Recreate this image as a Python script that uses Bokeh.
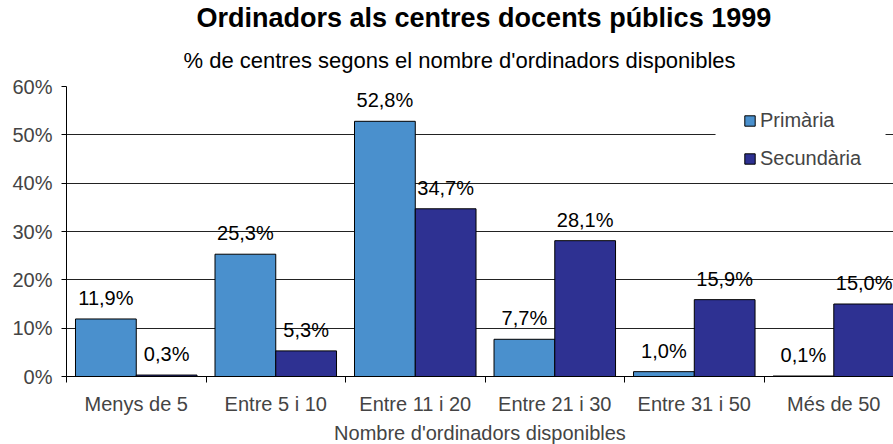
from bokeh.plotting import figure
from bokeh.models import (ColumnDataSource, Range1d, FixedTicker, Title, Legend,
                          LegendItem, BoxAnnotation)
from bokeh.core.properties import value
from bokeh.embed import file_html
from bokeh.resources import INLINE

categories = ["Menys de 5", "Entre 5 i 10", "Entre 11 i 20", "Entre 21 i 30", "Entre 31 i 50", "Més de 50"]
primaria = [11.9, 25.3, 52.8, 7.7, 1.0, 0.1]
secundaria = [0.3, 5.3, 34.7, 28.1, 15.9, 15.0]
series_names = ["Primària", "Secundària"]
y_ticks = [0, 10, 20, 30, 40, 50, 60]

FONT = "Liberation Sans"
FS = "20px"
C_PRI = "#4a90cd"
C_SEC = "#2e3192"

gap = 0.0645
bw = (1 - 2 * gap) / 2
idx = list(range(len(categories)))
pri_x = [i + gap + bw / 2 for i in idx]
sec_x = [i + gap + bw * 1.5 for i in idx]

def fmt(v):
    return f"{v:.1f}".replace(".", ",") + "%"

src_p = ColumnDataSource(dict(x=pri_x, top=primaria, lab=[fmt(v) for v in primaria]))
src_s = ColumnDataSource(dict(x=sec_x, top=secundaria, lab=[fmt(v) for v in secundaria]))

p = figure(frame_width=827, frame_height=290, output_backend="svg", toolbar_location=None,
           x_range=Range1d(0, 5.928), y_range=Range1d(0, 60),
           min_border_left=66, min_border_right=0, min_border_top=85, min_border_bottom=60,
           title="Ordinadors als centres docents públics 1999")
p.outline_line_color = None
p.background_fill_color = "white"

p.title.align = "left"
p.title.text_font = FONT
p.title.text_font_size = "27px"
p.title.text_font_style = "bold"
p.title.text_color = "black"
p.title.offset = 130
p.title.standoff = 0

subtitle = Title(text="% de centres segons el nombre d'ordinadors disponibles", align="left",
                 text_font=FONT, text_font_size="22px", text_font_style="normal",
                 text_color="black", offset=117, standoff=27, text_line_height=0.7)
p.add_layout(subtitle, "above")

rp = p.vbar(x="x", top="top", width=bw, source=src_p, fill_color=C_PRI, line_color="black", line_width=1)
rs = p.vbar(x="x", top="top", width=bw, source=src_s, fill_color=C_SEC, line_color="black", line_width=1)

for src in (src_p, src_s):
    p.text(x="x", y="top", text="lab", source=src, text_align="center", text_baseline="bottom",
           y_offset=-10, text_font=value(FONT), text_font_size=FS, text_color="black")

# legend background break
p.add_layout(BoxAnnotation(left=(715 - 66) / 139.5, right=(885 - 66) / 139.5, top=56.9, bottom=42.3,
                           fill_color="white", fill_alpha=1, line_color=None, level="glyph"))

legend = Legend(items=[LegendItem(label=series_names[0], renderers=[rp]),
                       LegendItem(label=series_names[1], renderers=[rs])],
                location=(677, 206), background_fill_alpha=0, border_line_color=None,
                label_text_font=FONT, label_text_font_size=FS, glyph_width=13, glyph_height=13,
                label_standoff=4, spacing=15, padding=6, label_height=20)
p.add_layout(legend, "center")

# axes
p.xaxis.ticker = FixedTicker(ticks=[i + 0.5 for i in idx], minor_ticks=[0, 1, 2, 3, 4, 5, 6])
p.xaxis.major_label_overrides = {i + 0.5: c for i, c in enumerate(categories)}
p.xaxis.major_tick_out = 0
p.xaxis.major_tick_in = 0
p.xaxis.minor_tick_out = 6
p.xaxis.minor_tick_in = 0
p.xaxis.major_label_standoff = 10
p.xaxis.axis_label = "Nombre d'ordinadors disponibles"
p.xaxis.axis_label_standoff = 4
p.xaxis.axis_label_text_font_style = "normal"
p.xaxis.axis_label_text_font = FONT
p.xaxis.axis_label_text_font_size = FS
p.xaxis.major_label_text_font = FONT
p.xaxis.major_label_text_font_size = FS
p.xaxis.axis_line_color = "black"
p.xaxis.minor_tick_line_color = "black"

p.yaxis.ticker = FixedTicker(ticks=y_ticks, minor_ticks=[])
p.yaxis.major_label_overrides = {t: f"{t}%" for t in y_ticks}
p.yaxis.major_tick_out = 5
p.yaxis.major_tick_in = 0
p.yaxis.major_label_standoff = 9
p.yaxis.major_label_text_font = FONT
p.yaxis.major_label_text_font_size = FS
p.yaxis.axis_line_color = "black"
p.yaxis.major_tick_line_color = "black"

p.xgrid.grid_line_color = None
p.ygrid.ticker = FixedTicker(ticks=y_ticks)
p.ygrid.grid_line_color = "#222222"
p.ygrid.grid_line_width = 1

open("out.html", "w").write(file_html(p, INLINE))
